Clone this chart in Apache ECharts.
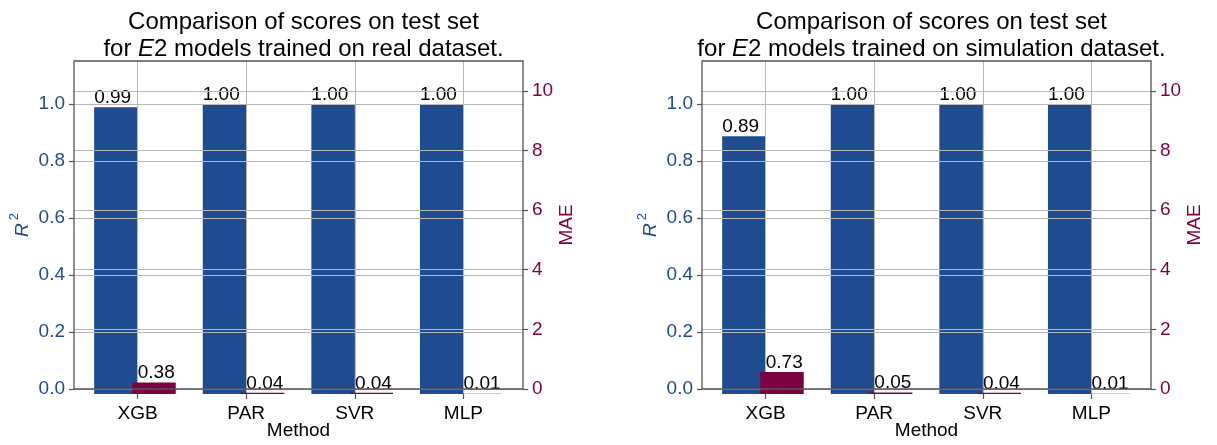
<!DOCTYPE html>
<html>
<head>
<meta charset="utf-8">
<script src="https://cdn.jsdelivr.net/npm/echarts@6/dist/echarts.min.js"></script>
<style>
  html, body { margin: 0; padding: 0; background: #fff; }
  #chart { width: 1217px; height: 445px; }
</style>
</head>
<body>
<div id="chart"></div>
<script>
// Scores of four regression methods on the test set
const methods = ['XGB', 'PAR', 'SVR', 'MLP'];
const r2Real = [0.99, 1.00, 1.00, 1.00];
const maeReal = [0.38, 0.04, 0.04, 0.01];
const r2Sim = [0.89, 1.00, 1.00, 1.00];
const maeSim = [0.73, 0.05, 0.04, 0.01];
const r2Ticks = [0, 0.2, 0.4, 0.6, 0.8, 1.0];
const maeTicks = [0, 2, 4, 6, 8, 10];
const datasetNames = ['real dataset.', 'simulation dataset.'];

const BLUE = '#1f4b91';
const RED = '#7d0040';
const GRID_GREY = '#b8b8b8';
const SPINE = '#555555';
const FONT = '"Liberation Sans", Arial, Helvetica, sans-serif';

// panel geometry (pixels)
const TOP = 61, HEIGHT = 333, FRAME_W = 449;
const FIRST_CAT = 63.6, CAT_SPAN = 325.8;
const BLUE_SHIFT = -21.7, RED_SHIFT = 16.4, BAR_W = 43.5;

const option = {
  animation: false,
  backgroundColor: '#fff',
  textStyle: { fontFamily: FONT },
  title: [], grid: [], xAxis: [], yAxis: [], series: []
};

function addPanel(x0, r2, mae, dsName) {
  const o = option;
  const catLeft = x0 + FIRST_CAT;

  o.title.push({
    left: x0 + FRAME_W / 2, top: 4, textAlign: 'center',
    text: '{n|Comparison of scores on test set}\n{n|for }{i|E}{n|2 models trained on ' + dsName + '}',
    textStyle: {
      fontWeight: 'normal',
      rich: {
        n: { fontSize: 24, lineHeight: 27, color: '#000', fontWeight: 'normal', fontFamily: FONT },
        i: { fontSize: 24, lineHeight: 27, color: '#000', fontWeight: 'normal', fontStyle: 'italic', fontFamily: FONT }
      }
    }
  });

  // frame grid: both value axes with their horizontal grid lines
  const gF = o.grid.length;
  o.grid.push({ left: x0, top: TOP, width: FRAME_W, height: HEIGHT, show: true,
    borderColor: SPINE, borderWidth: 1.3, backgroundColor: 'transparent', z: 10 });
  o.xAxis.push({ gridIndex: gF, type: 'value', min: 0, max: 1,
    axisLine: { show: false }, axisTick: { show: false }, axisLabel: { show: false }, splitLine: { show: false },
    name: 'Method', nameLocation: 'middle', nameGap: 32,
    nameTextStyle: { fontSize: 19, color: '#000', fontFamily: FONT } });
  o.yAxis.push({ gridIndex: gF, type: 'value', position: 'left', min: 0, max: 1.15, interval: 0.2, z: 2,
    axisLine: { show: false },
    axisTick: { show: true, length: 5, customValues: r2Ticks, lineStyle: { color: SPINE, width: 1.2 } },
    axisLabel: { customValues: r2Ticks, formatter: v => v.toFixed(1), color: BLUE, fontSize: 19, margin: 9, fontFamily: FONT },
    splitLine: { show: true, lineStyle: { color: GRID_GREY, width: 1 } },
    name: '{i|R}{s|2}', nameLocation: 'middle', nameRotate: 90, nameGap: 42,
    nameTextStyle: { color: BLUE, rich: {
      i: { fontSize: 19, fontStyle: 'italic', color: BLUE, lineHeight: 24, verticalAlign: 'bottom', fontFamily: FONT },
      s: { fontSize: 13, color: BLUE, lineHeight: 24, verticalAlign: 'top', padding: [0, 0, 0, 3], fontFamily: FONT }
    } } });
  o.yAxis.push({ gridIndex: gF, type: 'value', position: 'right', min: 0, max: 11, interval: 2, z: 2,
    axisLine: { show: false },
    axisTick: { show: true, length: 5, customValues: maeTicks, lineStyle: { color: SPINE, width: 1.2 } },
    axisLabel: { customValues: maeTicks, formatter: v => String(v), color: RED, fontSize: 19, margin: 9, fontFamily: FONT },
    splitLine: { show: true, lineStyle: { color: GRID_GREY, width: 1 } },
    name: 'MAE', nameLocation: 'middle', nameRotate: 90, nameGap: 34,
    nameTextStyle: { color: RED, fontSize: 19, fontFamily: FONT } });

  // category grid: method labels, ticks and vertical grid lines
  const gC = o.grid.length;
  o.grid.push({ left: catLeft, top: TOP, width: CAT_SPAN, height: HEIGHT });
  o.xAxis.push({ gridIndex: gC, type: 'category', data: methods, boundaryGap: false, z: 2,
    axisLine: { show: false },
    axisTick: { show: true, length: 5, lineStyle: { color: SPINE, width: 1.2 } },
    axisLabel: { color: '#000', fontSize: 19, margin: 10, fontFamily: FONT },
    splitLine: { show: true, lineStyle: { color: GRID_GREY, width: 1 } } });
  o.yAxis.push({ gridIndex: gC, type: 'value', min: 0, max: 1, show: false });

  // R^2 bars
  const gB = o.grid.length;
  o.grid.push({ left: catLeft + BLUE_SHIFT, top: TOP, width: CAT_SPAN, height: HEIGHT });
  o.xAxis.push({ gridIndex: gB, type: 'category', data: methods, boundaryGap: false, show: false });
  const yB = o.yAxis.length;
  o.yAxis.push({ gridIndex: gB, type: 'value', min: 0, max: 1.15, show: false });
  o.series.push({ type: 'bar', xAxisIndex: o.xAxis.length - 1, yAxisIndex: yB, data: r2,
    barWidth: BAR_W, clip: false, z: 1, itemStyle: { color: BLUE },
    label: { show: true, position: [0, 0], align: 'left', verticalAlign: 'bottom',
      formatter: p => p.value.toFixed(2), color: '#000', fontSize: 19, fontFamily: FONT } });

  // MAE bars
  const gR = o.grid.length;
  o.grid.push({ left: catLeft + RED_SHIFT, top: TOP, width: CAT_SPAN, height: HEIGHT });
  o.xAxis.push({ gridIndex: gR, type: 'category', data: methods, boundaryGap: false, show: false });
  const yR = o.yAxis.length;
  o.yAxis.push({ gridIndex: gR, type: 'value', min: 0, max: 11, show: false });
  o.series.push({ type: 'bar', xAxisIndex: o.xAxis.length - 1, yAxisIndex: yR, data: mae,
    barWidth: BAR_W, clip: false, z: 3, itemStyle: { color: RED },
    label: { show: true, position: [5.5, 0], align: 'left', verticalAlign: 'bottom',
      formatter: p => p.value.toFixed(2), color: '#000', fontSize: 19, fontFamily: FONT } });
}

addPanel(74, r2Real, maeReal, datasetNames[0]);
addPanel(702, r2Sim, maeSim, datasetNames[1]);

const chart = echarts.init(document.getElementById('chart'), null, { renderer: 'canvas' });
chart.setOption(option);
</script>
</body>
</html>
